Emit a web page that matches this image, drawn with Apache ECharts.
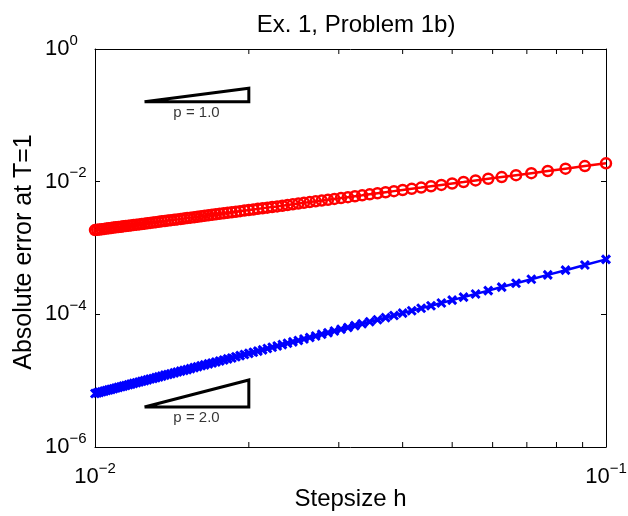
<!DOCTYPE html>
<html>
<head>
<meta charset="utf-8">
<script src="https://cdn.jsdelivr.net/npm/echarts@6/dist/echarts.min.js"></script>
<style>html,body{margin:0;padding:0;background:#fff;}#c{width:628px;height:516px;}</style>
</head>
<body>
<div id="c"></div>
<script>
// Step sizes h (h = 1/N for N = 10..100)
var stepsizes = [0.1,0.09091,0.08333,0.07692,0.07143,0.06667,0.0625,0.05882,0.05556,0.05263,
0.05,0.04762,0.04545,0.04348,0.04167,0.04,0.03846,0.03704,0.03571,0.03448,
0.03333,0.03226,0.03125,0.0303,0.02941,0.02857,0.02778,0.02703,0.02632,0.02564,
0.025,0.02439,0.02381,0.02326,0.02273,0.02222,0.02174,0.02128,0.02083,0.02041,
0.02,0.01961,0.01923,0.01887,0.01852,0.01818,0.01786,0.01754,0.01724,0.01695,
0.01667,0.01639,0.01613,0.01587,0.01563,0.01538,0.01515,0.01493,0.01471,0.01449,
0.01429,0.01408,0.01389,0.0137,0.01351,0.01333,0.01316,0.01299,0.01282,0.01266,
0.0125,0.01235,0.0122,0.01205,0.0119,0.01176,0.01163,0.01149,0.01136,0.01124,
0.01111,0.01099,0.01087,0.01075,0.01064,0.01053,0.01042,0.01031,0.0102,0.0101,0.01];

// Red series (circles): first order error
var errorOrder1 = [0.0189,0.01716,0.01571,0.01449,0.01344,0.01253,0.01174,0.01105,0.01043,0.00987,
0.00938,0.00893,0.00852,0.00814,0.0078,0.00749,0.0072,0.00693,0.00668,0.00645,
0.00623,0.00603,0.00584,0.00566,0.0055,0.00534,0.00519,0.00505,0.00492,0.00479,
0.00467,0.00455,0.00445,0.00434,0.00424,0.00415,0.00406,0.00397,0.00389,0.00381,
0.00373,0.00366,0.00359,0.00352,0.00345,0.00339,0.00333,0.00327,0.00322,0.00316,
0.00311,0.00306,0.00301,0.00296,0.00291,0.00287,0.00283,0.00278,0.00274,0.0027,
0.00266,0.00263,0.00259,0.00255,0.00252,0.00249,0.00245,0.00242,0.00239,0.00236,
0.00233,0.0023,0.00227,0.00225,0.00222,0.00219,0.00217,0.00214,0.00212,0.00209,
0.00207,0.00205,0.00203,0.002,0.00198,0.00196,0.00194,0.00192,0.0019,0.00188,0.00186];

// Blue series (x markers): second order error
var errorOrder2 = [0.000673,0.0005535,0.0004632,0.0003933,0.0003381,0.0002938,0.0002576,0.0002277,0.0002028,0.0001817,
0.0001638,0.0001484,0.000135,0.0001234,0.0001132,0.0001042,0.0000962,0.0000892,0.0000829,0.0000772,
0.0000721,0.0000675,0.0000633,0.0000595,0.000056,0.0000528,0.00005,0.0000472,0.0000448,0.0000425,
0.0000404,0.0000384,0.0000366,0.0000349,0.0000333,0.0000319,0.0000305,0.0000291,0.0000279,0.0000268,
0.0000258,0.0000248,0.0000239,0.0000229,0.000022,0.0000213,0.0000205,0.0000198,0.0000191,0.0000185,
0.0000179,0.0000173,0.0000168,0.0000162,0.0000157,0.0000152,0.0000147,0.0000143,0.0000139,0.0000135,
0.0000131,0.0000127,0.0000124,0.0000121,0.0000117,0.0000114,0.0000111,0.0000108,0.0000106,0.0000103,
0.00001,0.00000978,0.00000954,0.00000931,0.00000909,0.00000888,0.00000867,0.00000847,0.00000827,0.00000809,
0.00000792,0.00000775,0.00000757,0.0000074,0.00000725,0.0000071,0.00000695,0.00000681,0.00000667,0.00000654,0.00000641];

// Slope triangles (vertices in data coordinates)
var triangle1 = [[0.0125,0.16],[0.02,0.16],[0.02,0.256],[0.0125,0.16]];
var triangle2 = [[0.0125,4e-6],[0.02,4e-6],[0.02,1.024e-5],[0.0125,4e-6]];
var slopeLabels = ['p = 1.0','p = 2.0'];
var slopeLabelAnchors = [[0.0158,0.11],[0.0158,2.75e-6]];

// Axis ranges and minor x ticks
var xRange = [0.01, 0.1];
var yRange = [1e-6, 1];
var xMinorTicks = [0.02,0.03,0.04,0.05,0.06,0.07,0.08,0.09];

var titleText = 'Ex. 1, Problem 1b)';
var xName = 'Stepsize h';
var yName = 'Absolute error at T=1';

var FONT = "'Liberation Sans', Arial, Helvetica, sans-serif";

function zip(a, b) { return a.map(function (v, i) { return [v, b[i]]; }); }
function powLabel(v) {
  var e = Math.round(Math.log(v) / Math.LN10);
  var s = e < 0 ? '\u2212' + (-e) : String(e);
  return '{b|10}{s|' + s + '}';
}
var richPow = {
  b: { fontSize: 22, lineHeight: 32, fontFamily: FONT, color: '#000' },
  s: { fontSize: 15, lineHeight: 15, verticalAlign: 'top', fontFamily: FONT, color: '#000' }
};
var axisLineStyle = { show: true, lineStyle: { color: '#000', width: 1 } };
var tickStyle = { show: true, inside: true, length: 5, lineStyle: { color: '#000', width: 1 } };

var chart = echarts.init(document.getElementById('c'), null, { renderer: 'canvas' });
chart.setOption({
  animation: false,
  backgroundColor: '#fff',
  title: {
    text: titleText, left: 351, top: 8, textAlign: 'center',
    textStyle: { fontSize: 24, fontWeight: 'normal', color: '#000', fontFamily: FONT }
  },
  grid: { left: 95, right: 22, top: 49, bottom: 69, containLabel: false, outerBoundsMode: 'none' },
  xAxis: [{
    type: 'log', logBase: 10, min: xRange[0], max: xRange[1], interval: 1,
    position: 'bottom',
    axisLine: axisLineStyle, axisTick: tickStyle,
    splitLine: { show: false }, minorTick: { show: false },
    axisLabel: { formatter: powLabel, rich: richPow, margin: 14 },
    name: xName, nameLocation: 'middle', nameGap: 40, nameMoveOverlap: false,
    nameTextStyle: { fontSize: 24, color: '#000', fontFamily: FONT }
  }, {
    type: 'log', logBase: 10, min: xRange[0], max: xRange[1], interval: 1,
    position: 'top',
    axisLine: axisLineStyle, axisTick: tickStyle,
    splitLine: { show: false }, axisLabel: { show: false }
  }],
  yAxis: [{
    type: 'log', logBase: 10, min: yRange[0], max: yRange[1], interval: 2,
    position: 'left',
    axisLine: axisLineStyle, axisTick: tickStyle,
    splitLine: { show: false }, minorTick: { show: false },
    axisLabel: { formatter: powLabel, rich: richPow, margin: 50, align: 'left' },
    name: yName, nameLocation: 'middle', nameGap: 58, nameMoveOverlap: false,
    nameTextStyle: { fontSize: 25, color: '#000', fontFamily: FONT, padding: [0, 8, 0, 0] }
  }, {
    type: 'log', logBase: 10, min: yRange[0], max: yRange[1], interval: 2,
    position: 'right',
    axisLine: axisLineStyle, axisTick: tickStyle,
    splitLine: { show: false }, axisLabel: { show: false }
  }],
  series: [{
    type: 'line', name: 'order1', data: zip(stepsizes, errorOrder1),
    symbol: 'circle', symbolSize: 10,
    lineStyle: { color: '#ff0000', width: 2.5 },
    itemStyle: { color: 'rgba(0,0,0,0)', borderColor: '#ff0000', borderWidth: 2.5 },
    z: 3
  }, {
    type: 'line', name: 'order2', data: zip(stepsizes, errorOrder2),
    symbol: 'path://M0,0L8,8M8,0L0,8', symbolSize: 8, symbolKeepAspect: true,
    lineStyle: { color: '#0000ff', width: 2.5 },
    itemStyle: { color: 'rgba(0,0,0,0)', borderColor: '#0000ff', borderWidth: 3 },
    z: 3
  }, {
    type: 'line', data: triangle1, symbol: 'none',
    lineStyle: { color: '#000', width: 3, join: 'miter' }, z: 4
  }, {
    type: 'line', data: triangle2, symbol: 'none',
    lineStyle: { color: '#000', width: 3, join: 'miter' }, z: 4
  }, {
    type: 'scatter', symbolSize: 0, z: 5,
    data: slopeLabelAnchors.map(function (p, i) { return { value: p, name: slopeLabels[i] }; }),
    label: { show: true, position: 'inside', formatter: '{b}', fontSize: 15, color: '#000', fontFamily: FONT }
  }, {
    type: 'custom', clip: false, z: 5,
    data: xMinorTicks.map(function (v) { return [v, yRange[0]]; }),
    renderItem: function (params, api) {
      var x = api.value(0);
      var b = api.coord([x, yRange[0]]);
      var t = api.coord([x, yRange[1]]);
      return { type: 'group', children: [
        { type: 'line', shape: { x1: b[0], y1: b[1], x2: b[0], y2: b[1] - 5 }, style: { stroke: '#000', lineWidth: 1 } },
        { type: 'line', shape: { x1: t[0], y1: t[1], x2: t[0], y2: t[1] + 5 }, style: { stroke: '#000', lineWidth: 1 } }
      ]};
    }
  }]
});
</script>
</body>
</html>
